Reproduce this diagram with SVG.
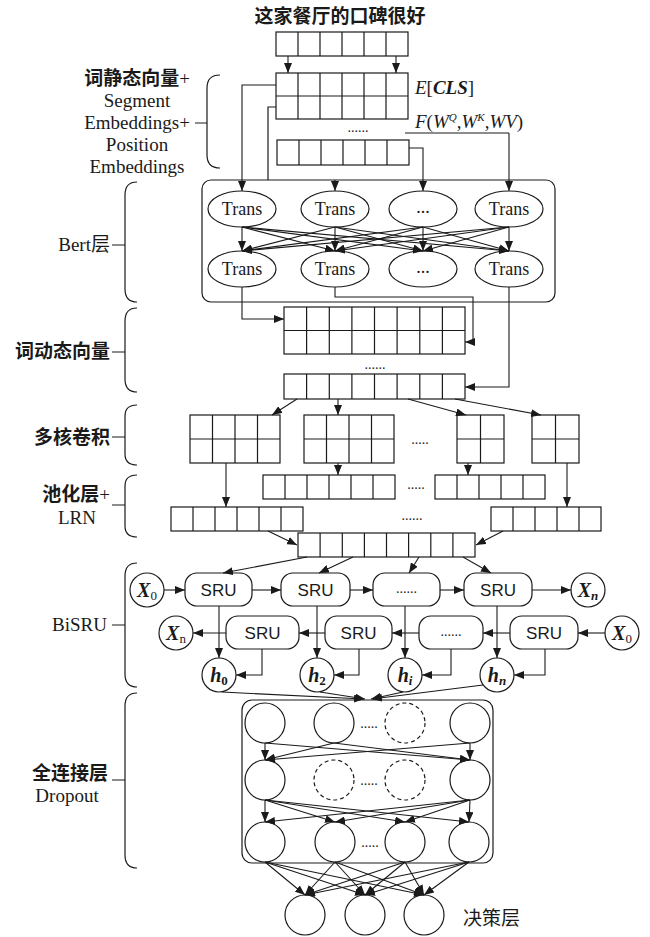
<svg xmlns="http://www.w3.org/2000/svg" width="650" height="937" viewBox="0 0 650 937">
<style>
.s{fill:none;stroke:#1a1a1a;stroke-width:1.2}
.b{fill:#fff;stroke:#1a1a1a;stroke-width:1.2}
.d{fill:#fff;stroke:#1a1a1a;stroke-width:1.2;stroke-dasharray:4 3}
.a{fill:none;stroke:#1a1a1a;stroke-width:1.1;marker-end:url(#ah)}
.cn{font-family:"Noto Sans CJK SC",sans-serif;font-weight:bold;font-size:19px;fill:#1a1a1a}
.cl{font-family:"Noto Sans CJK SC",sans-serif;font-size:19px;fill:#1a1a1a}
.tm{font-family:"Liberation Serif",serif;font-size:19px;fill:#1a1a1a}
.tr{font-family:"Liberation Serif",serif;font-size:18px;text-anchor:middle;fill:#1a1a1a}
.sr{font-family:"Liberation Sans",sans-serif;font-size:17px;text-anchor:middle;fill:#1a1a1a}
.v{font-family:"Liberation Serif",serif;font-weight:bold;font-style:italic;font-size:20px;text-anchor:middle;fill:#1a1a1a}
.dt{font-family:"Liberation Serif",serif;font-size:14px;text-anchor:middle;fill:#1a1a1a}
</style>
<defs>
<marker id="ah" markerUnits="userSpaceOnUse" markerWidth="10" markerHeight="8" refX="10" refY="4" orient="auto"><path d="M0 0L10 4L0 8Z" fill="#1a1a1a"/></marker>
</defs>
<rect width="650" height="937" fill="#fff"/>

<!-- left labels and braces -->
<g id="labels">
<text class="cn" x="340" y="23" text-anchor="middle" font-size="20">这家餐厅的口碑很好</text>
<text x="137" y="85" text-anchor="middle"><tspan class="cn">词静态向量</tspan><tspan class="tm">+</tspan></text>
<text class="tm" x="137" y="107" text-anchor="middle" font-size="20">Segment</text>
<text class="tm" x="137" y="129" text-anchor="middle" font-size="20">Embeddings+</text>
<text class="tm" x="137" y="151" text-anchor="middle" font-size="20">Position</text>
<text class="tm" x="137" y="173" text-anchor="middle" font-size="20">Embeddings</text>
<text x="110" y="251" text-anchor="end"><tspan class="tm">Bert</tspan><tspan class="cl">层</tspan></text>
<text class="cn" x="110" y="358" text-anchor="end">词动态向量</text>
<text class="cn" x="110" y="444" text-anchor="end">多核卷积</text>
<text x="110" y="501" text-anchor="end"><tspan class="cn">池化层</tspan><tspan class="tm">+</tspan></text>
<text class="tm" x="77" y="524" text-anchor="middle">LRN</text>
<text class="tm" x="107" y="631" text-anchor="end">BiSRU</text>
<text class="cn" x="108" y="780" text-anchor="end">全连接层</text>
<text class="tm" x="67" y="802" text-anchor="middle">Dropout</text>
<text class="cl" x="463" y="925">决策层</text>
<text x="415" y="94" class="tm" font-size="18"><tspan font-style="italic">E</tspan>[<tspan font-weight="bold" font-style="italic">CLS</tspan>]</text>
<text x="415" y="128" class="tm" font-size="17"><tspan font-style="italic">F</tspan>(<tspan font-style="italic">W</tspan><tspan font-style="italic" font-size="11" dy="-7">Q</tspan><tspan dy="7">,</tspan><tspan font-style="italic">W</tspan><tspan font-style="italic" font-size="11" dy="-7">K</tspan><tspan dy="7">,</tspan><tspan font-style="italic">WV</tspan>)</text>
<path class="s" d="M220 75C211 75 207 80 207 88V155C207 163 211 168 220 168M195 123H207"/>
<path class="s" d="M137 182C128 182 125 187 125 195V289C125 297 128 302 137 302M112 245H125"/>
<path class="s" d="M137 308C128 308 125 313 125 321V379C125 387 128 392 137 392M112 352H125"/>
<path class="s" d="M137 405C128 405 125 410 125 416V454C125 460 128 465 137 465M112 437H125"/>
<path class="s" d="M137 475C128 475 125 480 125 486V526C125 532 128 537 137 537M112 505H125"/>
<path class="s" d="M137 563C128 563 125 568 125 576V674C125 682 128 687 137 687M112 625H125"/>
<path class="s" d="M137 693C128 693 125 698 125 706V855C125 863 128 868 137 868M112 780H125"/>
</g>

<!-- embedding grids -->
<g id="input-row"><rect class="b" x="276" y="32" width="132" height="24"/><path class="s" d="M298 32V56M320 32V56M342 32V56M364 32V56M386 32V56"/></g>
<g id="embedding"><rect class="b" x="276" y="73" width="132" height="46"/><path class="s" d="M298 73V119M320 73V119M342 73V119M364 73V119M386 73V119M276 96H408"/></g>
<g id="embedding-n"><rect class="b" x="277" y="140" width="132" height="25"/><path class="s" d="M299 140V165M321 140V165M343 140V165M365 140V165M387 140V165"/></g>
<text class="dt" x="358" y="132">......</text>

<!-- Bert layer -->
<g id="bert"><rect class="s" x="202" y="180" width="353" height="122" rx="9"/></g>
<g id="trans1"><ellipse class="b" cx="242" cy="209" rx="34" ry="18"/><text class="tr" x="242" y="215">Trans</text></g>
<g id="trans2"><ellipse class="b" cx="335" cy="209" rx="34" ry="18"/><text class="tr" x="335" y="215">Trans</text></g>
<g id="trans3"><ellipse class="b" cx="423" cy="209" rx="34" ry="18"/><text class="tr" x="423" y="213">...</text></g>
<g id="trans4"><ellipse class="b" cx="509" cy="209" rx="34" ry="18"/><text class="tr" x="509" y="215">Trans</text></g>
<g id="trans5"><ellipse class="b" cx="242" cy="269" rx="34" ry="18"/><text class="tr" x="242" y="275">Trans</text></g>
<g id="trans6"><ellipse class="b" cx="335" cy="269" rx="34" ry="18"/><text class="tr" x="335" y="275">Trans</text></g>
<g id="trans7"><ellipse class="b" cx="423" cy="269" rx="34" ry="18"/><text class="tr" x="423" y="273">...</text></g>
<g id="trans8"><ellipse class="b" cx="509" cy="269" rx="34" ry="18"/><text class="tr" x="509" y="275">Trans</text></g>

<!-- dynamic vectors -->
<g id="dyn1"><rect class="b" x="284" y="307" width="181" height="47"/><path class="s" d="M306.6 307V354M329.3 307V354M351.9 307V354M374.5 307V354M397.1 307V354M419.8 307V354M442.4 307V354M284 330.5H465"/></g>
<g id="dyn2"><rect class="b" x="284" y="374" width="181" height="25"/><path class="s" d="M306.6 374V399M329.3 374V399M351.9 374V399M374.5 374V399M397.1 374V399M419.8 374V399M442.4 374V399"/></g>
<text class="dt" x="375" y="369">......</text>

<!-- convolution -->
<g id="conv1"><rect class="b" x="190" y="415" width="90" height="48"/><path class="s" d="M212.5 415V463M235 415V463M257.5 415V463M190 439H280"/></g>
<g id="conv2"><rect class="b" x="304" y="415" width="90" height="48"/><path class="s" d="M326.5 415V463M349 415V463M371.5 415V463M304 439H394"/></g>
<g id="conv3"><rect class="b" x="457" y="415" width="47" height="48"/><path class="s" d="M480.5 415V463M457 439H504"/></g>
<g id="conv4"><rect class="b" x="532" y="415" width="47" height="48"/><path class="s" d="M555.5 415V463M532 439H579"/></g>
<text class="dt" x="420" y="444">.....</text>

<!-- pooling -->
<g id="pool1"><rect class="b" x="263" y="475" width="132" height="24"/><path class="s" d="M285 475V499M307 475V499M329 475V499M351 475V499M373 475V499"/></g>
<g id="pool2"><rect class="b" x="435" y="475" width="110" height="24"/><path class="s" d="M457 475V499M479 475V499M501 475V499M523 475V499"/></g>
<g id="pool3"><rect class="b" x="171" y="507" width="132" height="24"/><path class="s" d="M193 507V531M215 507V531M237 507V531M259 507V531M281 507V531"/></g>
<g id="pool4"><rect class="b" x="491" y="507" width="110" height="24"/><path class="s" d="M513 507V531M535 507V531M557 507V531M579 507V531"/></g>
<text class="dt" x="416" y="489">.....</text>
<text class="dt" x="412" y="520">......</text>
<g id="concat"><rect class="b" x="298" y="533" width="177" height="24"/><path class="s" d="M320.1 533V557M342.3 533V557M364.4 533V557M386.5 533V557M408.6 533V557M430.8 533V557M452.9 533V557"/></g>

<!-- BiSRU -->
<g id="x0f"><circle class="b" cx="147" cy="590" r="17"/><text class="v" x="147" y="597">X<tspan font-size="13" font-style="normal" font-weight="normal" dy="3">0</tspan></text></g>
<g id="sru1"><rect class="b" x="185" y="573" width="67" height="33" rx="12"/><text class="sr" x="218.5" y="596">SRU</text></g>
<g id="sru2"><rect class="b" x="281" y="573" width="69" height="33" rx="12"/><text class="sr" x="315.5" y="596">SRU</text></g>
<g id="sru3"><rect class="b" x="373" y="573" width="67" height="33" rx="12"/><text class="dt" x="406.5" y="593">......</text></g>
<g id="sru4"><rect class="b" x="464" y="573" width="68" height="33" rx="12"/><text class="sr" x="498" y="596">SRU</text></g>
<g id="xnf"><circle class="b" cx="588" cy="590" r="17"/><text class="v" x="588" y="597">X<tspan font-size="13" dy="3">n</tspan></text></g>
<g id="xnb"><circle class="b" cx="176" cy="633" r="17"/><text class="v" x="176" y="640">X<tspan font-size="13" font-style="normal" font-weight="normal" dy="3">n</tspan></text></g>
<g id="srub1"><rect class="b" x="226" y="616" width="73" height="33" rx="12"/><text class="sr" x="262.5" y="639">SRU</text></g>
<g id="srub2"><rect class="b" x="325" y="616" width="67" height="33" rx="12"/><text class="sr" x="358.5" y="639">SRU</text></g>
<g id="srub3"><rect class="b" x="419" y="616" width="64" height="33" rx="12"/><text class="dt" x="451" y="636">......</text></g>
<g id="srub4"><rect class="b" x="510" y="616" width="68" height="33" rx="12"/><text class="sr" x="544" y="639">SRU</text></g>
<g id="x0b"><circle class="b" cx="622" cy="633" r="17"/><text class="v" x="622" y="640">X<tspan font-size="13" font-style="normal" font-weight="normal" dy="3">0</tspan></text></g>
<g id="h0"><circle class="b" cx="219" cy="675" r="17"/><text class="v" x="219" y="682">h<tspan font-size="13" font-style="normal" dy="3">0</tspan></text></g>
<g id="h2"><circle class="b" cx="317" cy="675" r="17"/><text class="v" x="317" y="682">h<tspan font-size="13" font-style="normal" dy="3">2</tspan></text></g>
<g id="hi"><circle class="b" cx="405" cy="675" r="17"/><text class="v" x="405" y="682">h<tspan font-size="13" dy="3">i</tspan></text></g>
<g id="hn"><circle class="b" cx="497" cy="675" r="17"/><text class="v" x="497" y="682">h<tspan font-size="13" dy="3">n</tspan></text></g>

<!-- fully connected -->
<g id="fc"><rect class="s" x="242" y="700" width="251" height="163" rx="10"/></g>
<g id="f11"><circle class="b" cx="265" cy="723" r="20"/></g>
<g id="f12"><circle class="b" cx="334" cy="723" r="20"/></g>
<g id="f13"><circle class="d" cx="405" cy="723" r="20"/></g>
<g id="f14"><circle class="b" cx="470" cy="723" r="20"/></g>
<g id="f21"><circle class="b" cx="265" cy="780" r="20"/></g>
<g id="f22"><circle class="d" cx="334" cy="780" r="20"/></g>
<g id="f23"><circle class="d" cx="405" cy="780" r="20"/></g>
<g id="f24"><circle class="b" cx="470" cy="780" r="20"/></g>
<g id="f31"><circle class="b" cx="265" cy="842" r="20"/></g>
<g id="f32"><circle class="b" cx="335" cy="842" r="20"/></g>
<g id="f33"><circle class="b" cx="405" cy="842" r="20"/></g>
<g id="f34"><circle class="b" cx="469" cy="842" r="20"/></g>
<text class="dt" x="369" y="728">.....</text>
<text class="dt" x="369" y="785">.....</text>
<text class="dt" x="370" y="847">.....</text>
<g id="o1"><circle class="b" cx="305" cy="915" r="20"/></g>
<g id="o2"><circle class="b" cx="365" cy="915" r="20"/></g>
<g id="o3"><circle class="b" cx="424" cy="915" r="20"/></g>

<g id="connectors">
<path class="a" d="M288 56V73"/><path class="a" d="M396 56V73"/>
<path class="a" d="M276 85H242V191"/>
<path class="s" d="M276 107H268V180"/>
<path class="a" d="M335 180V191"/>
<path class="a" d="M409 148H423V191"/>
<path class="s" d="M405 133H509"/><path class="a" d="M509 133V191"/>
<path class="a" d="M242 227L242 251"/><path class="a" d="M242 227L335 251"/><path class="a" d="M242 227L423 251"/><path class="a" d="M242 227L509 251"/>
<path class="a" d="M335 227L242 251"/><path class="a" d="M335 227L335 251"/><path class="a" d="M335 227L423 251"/><path class="a" d="M335 227L509 251"/>
<path class="a" d="M423 227L242 251"/><path class="a" d="M423 227L335 251"/><path class="a" d="M423 227L423 251"/><path class="a" d="M423 227L509 251"/>
<path class="a" d="M509 227L242 251"/><path class="a" d="M509 227L335 251"/><path class="a" d="M509 227L423 251"/><path class="a" d="M509 227L509 251"/>
<path class="a" d="M242 287V319H284"/>
<path class="a" d="M335 287V297H473V342H465"/>
<path class="a" d="M509 287V387H465"/>
<path class="a" d="M297 399L272 415"/><path class="a" d="M338 399V415"/><path class="a" d="M408 399L466 415"/><path class="a" d="M455 399L541 415"/>
<path class="a" d="M226 463V507"/><path class="a" d="M338 463V475"/><path class="a" d="M468 463V475"/><path class="a" d="M567 463V507"/>
<path class="a" d="M268 531L297 545"/><path class="a" d="M503 531L476 545"/>
<path class="a" d="M307 557L223 573"/><path class="a" d="M353 557L319 573"/><path class="a" d="M419 557L409 573"/><path class="a" d="M463 557L491 573"/>
<path class="a" d="M164 590H185"/><path class="a" d="M252 590H281"/><path class="a" d="M350 590H373"/><path class="a" d="M440 590H464"/><path class="a" d="M532 590H571"/>
<path class="a" d="M605 633H578"/><path class="a" d="M510 633H483"/><path class="a" d="M419 633H392"/><path class="a" d="M325 633H299"/><path class="a" d="M226 633H193"/>
<path class="a" d="M219 606V658"/><path class="a" d="M317 606V658"/><path class="a" d="M405 606V658"/><path class="a" d="M497 606V658"/>
<path class="a" d="M262 649V675H236"/><path class="a" d="M359 649V675H334"/><path class="a" d="M451 649V675H422"/><path class="a" d="M545 649V675H514"/>
<path class="a" d="M222 692L364 699"/><path class="a" d="M320 692L365 699"/><path class="a" d="M403 692L371 699"/><path class="a" d="M483 685L372 699"/>
<path class="a" d="M265 743L265 760"/><path class="a" d="M265 743L470 760"/><path class="a" d="M334 743L265 760"/><path class="a" d="M334 743L470 760"/><path class="a" d="M470 743L265 760"/><path class="a" d="M470 743L470 760"/>
<path class="a" d="M265 800L265 822"/><path class="a" d="M265 800L335 822"/><path class="a" d="M265 800L405 822"/><path class="a" d="M265 800L469 822"/>
<path class="a" d="M470 800L265 822"/><path class="a" d="M470 800L335 822"/><path class="a" d="M470 800L405 822"/><path class="a" d="M470 800L469 822"/>
<path class="a" d="M265 862L305 895"/><path class="a" d="M265 862L365 895"/><path class="a" d="M265 862L424 895"/>
<path class="a" d="M335 862L305 895"/><path class="a" d="M335 862L365 895"/><path class="a" d="M335 862L424 895"/>
<path class="a" d="M405 862L305 895"/><path class="a" d="M405 862L365 895"/><path class="a" d="M405 862L424 895"/>
<path class="a" d="M469 862L305 895"/><path class="a" d="M469 862L365 895"/><path class="a" d="M469 862L424 895"/>
</g>
</svg>
